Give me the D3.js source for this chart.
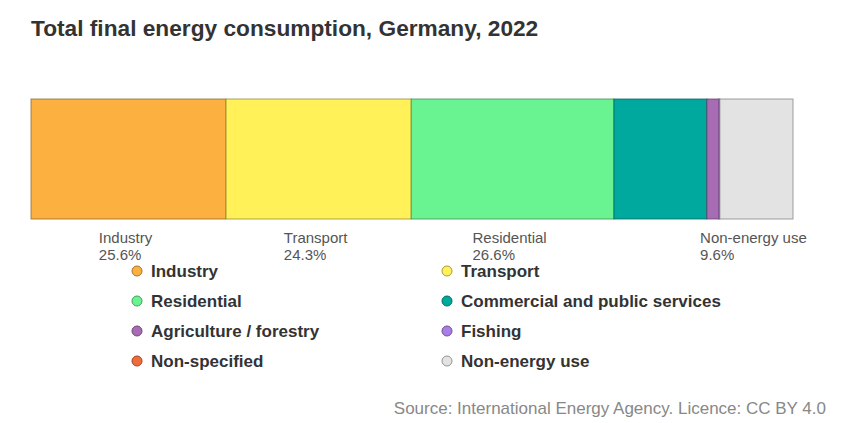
<!DOCTYPE html>
<html>
<head>
<meta charset="utf-8">
<script src="https://cdn.jsdelivr.net/npm/d3@7"></script>
<style>
  html, body { margin: 0; padding: 0; background: #fff; }
  svg { display: block; font-family: "Liberation Sans", Arial, sans-serif; }
</style>
</head>
<body>
<svg id="chart" width="851" height="423"></svg>
<script>
// Final energy consumption by sector, share of total (%)
const categories = [
  "Industry", "Transport", "Residential", "Commercial and public services",
  "Agriculture / forestry", "Fishing", "Non-specified", "Non-energy use"
];
const shares = [25.6, 24.3, 26.6, 12.2, 1.6, 0.1, 0.0, 9.6];
const colors = [
  "#fbb040", "#fff157", "#6af391", "#00a99d",
  "#a86cb5", "#a97ee6", "#f26b3a", "#e3e3e3"
];
// sectors that carry a name/percentage label under the bar
const labelled = ["Industry", "Transport", "Residential", "Non-energy use"];

const title = "Total final energy consumption, Germany, 2022";
const source = "Source: International Energy Agency. Licence: CC BY 4.0";

const svg = d3.select("#chart");

const data = categories.map((c, i) => ({ name: c, value: shares[i], color: colors[i] }));
let acc = 0;
data.forEach(d => { d.start = acc; acc += d.value; d.end = acc; });

const x = d3.scaleLinear().domain([0, d3.sum(shares)]).range([31, 793]);
const barTop = 99, barBottom = 219;

// title
svg.append("text")
  .attr("x", 31).attr("y", 36)
  .attr("font-size", 22.7).attr("font-weight", "bold")
  .attr("fill", "#333")
  .text(title);

// stacked bar segments
svg.append("g").selectAll("rect")
  .data(data.filter(d => d.value > 0))
  .join("rect")
  .attr("x", d => x(d.start))
  .attr("y", barTop)
  .attr("width", d => x(d.end) - x(d.start))
  .attr("height", barBottom - barTop)
  .attr("fill", d => d.color)
  .attr("stroke", d => d3.color(d.color).darker(1.6))
  .attr("stroke-opacity", 0.75)
  .attr("stroke-width", 1);

// segment labels: name and share, left-aligned block centred under the segment
const labG = svg.append("g").attr("font-size", 15).attr("fill", "#555");
data.filter(d => labelled.includes(d.name)).forEach(d => {
  const g = labG.append("g");
  const t1 = g.append("text").attr("y", 242.5).text(d.name);
  const t2 = g.append("text").attr("y", 259.5).text(d3.format(".1f")(d.value) + "%");
  const w = Math.max(t1.node().getComputedTextLength(), t2.node().getComputedTextLength());
  const cx = (x(d.start) + x(d.end)) / 2;
  g.attr("transform", `translate(${cx - w / 2 - 3},0)`);
});

// legend, two columns
const legX = [137, 447];
const legY = d3.range(4).map(i => 271 + i * 30);
const leg = svg.append("g").selectAll("g")
  .data(data)
  .join("g")
  .attr("transform", (d, i) => `translate(${legX[i % 2]},${legY[Math.floor(i / 2)]})`);
leg.append("circle")
  .attr("r", 5)
  .attr("fill", d => d.color)
  .attr("stroke", d => d3.color(d.color).darker(1.2))
  .attr("stroke-width", 1);
leg.append("text")
  .attr("x", 14).attr("y", 6)
  .attr("font-size", 17).attr("font-weight", "bold")
  .attr("fill", "#333")
  .text(d => d.name);

// source note
svg.append("text")
  .attr("x", 826).attr("y", 414)
  .attr("text-anchor", "end")
  .attr("font-size", 17)
  .attr("fill", "#888")
  .text(source);
</script>
</body>
</html>
